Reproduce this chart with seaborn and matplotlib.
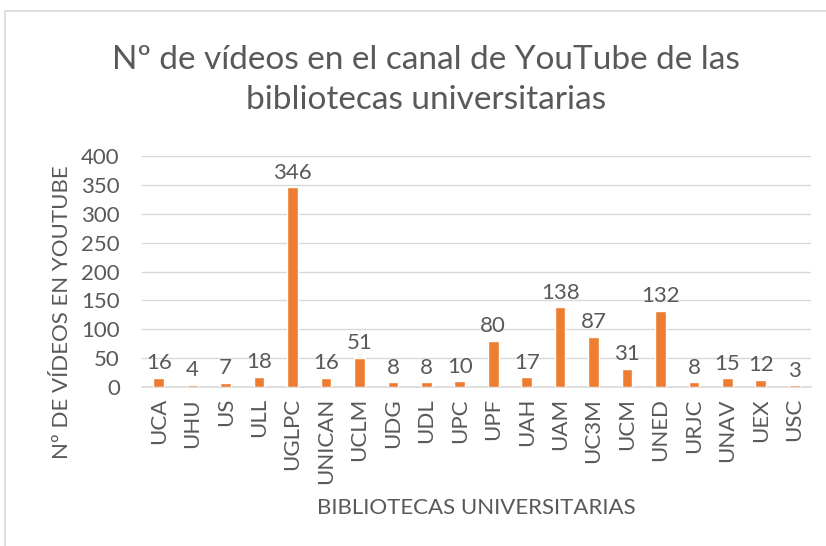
import pandas as pd
import seaborn as sns
import matplotlib.pyplot as plt
from matplotlib.patches import Rectangle

# Datos
universidades = ["UCA", "UHU", "US", "ULL", "UGLPC", "UNICAN", "UCLM", "UDG", "UDL", "UPC",
                 "UPF", "UAH", "UAM", "UC3M", "UCM", "UNED", "URJC", "UNAV", "UEX", "USC"]
videos = [16, 4, 7, 18, 346, 16, 51, 8, 8, 10, 80, 17, 138, 87, 31, 132, 8, 15, 12, 3]
yticks = [0, 50, 100, 150, 200, 250, 300, 350, 400]

df = pd.DataFrame({"Universidad": universidades, "Videos": videos})

sns.set_style("white")
plt.rcParams["font.family"] = ["Lato", "DejaVu Sans"]
gris = "#595959"
fs = 16

fig = plt.figure(figsize=(8.26, 5.46), dpi=100)
ax = fig.add_axes([142 / 826, 1 - 387 / 546, (811 - 142) / 826, (387 - 156) / 546])

sns.barplot(data=df, x="Universidad", y="Videos", color="#ED7D31", width=0.32,
            saturation=1, ax=ax, zorder=3)

for i, v in enumerate(videos):
    ax.text(i, v + 8, str(v), ha="center", va="bottom", fontsize=fs, color=gris)

ax.set_ylim(0, 400)
ax.set_yticks(yticks)
ax.set_yticklabels([str(t) for t in yticks], fontsize=fs, color=gris)
ax.set_xlim(-0.5, len(universidades) - 0.5)
ax.set_xticks(range(len(universidades)))
ax.set_xticklabels(universidades, rotation=90, fontsize=fs, color=gris)
ax.tick_params(axis="x", length=0, pad=8)
ax.tick_params(axis="y", length=0, pad=16)
ax.yaxis.grid(True, color="#D9D9D9", linewidth=1, zorder=0)

for s in ["top", "right", "left"]:
    ax.spines[s].set_visible(False)
ax.spines["bottom"].set_color("#D9D9D9")
ax.spines["bottom"].set_linewidth(1.2)

ax.set_xlabel("BIBLIOTECAS UNIVERSITARIAS", fontsize=fs, color=gris)
ax.xaxis.set_label_coords(0.5, -0.524)
ax.xaxis.label.set_va("center")
ax.set_ylabel("Nº DE VÍDEOS EN YOUTUBE", fontsize=fs, color=gris)
ax.yaxis.set_label_coords(-0.12, 0.325)
ax.yaxis.label.set_va("center")

fig.text(0.516, 1 - 80 / 546, "Nº de vídeos en el canal de YouTube de las\nbibliotecas universitarias",
         ha="center", va="center", fontsize=24, color=gris, linespacing=1.38)

fig.patches.append(Rectangle((5 / 826, -0.01), 1.02, 1 - 11 / 546 + 0.01, transform=fig.transFigure,
                             fill=False, edgecolor="#D9D9D9", linewidth=1.2))

fig.savefig("out.png", dpi=100)
